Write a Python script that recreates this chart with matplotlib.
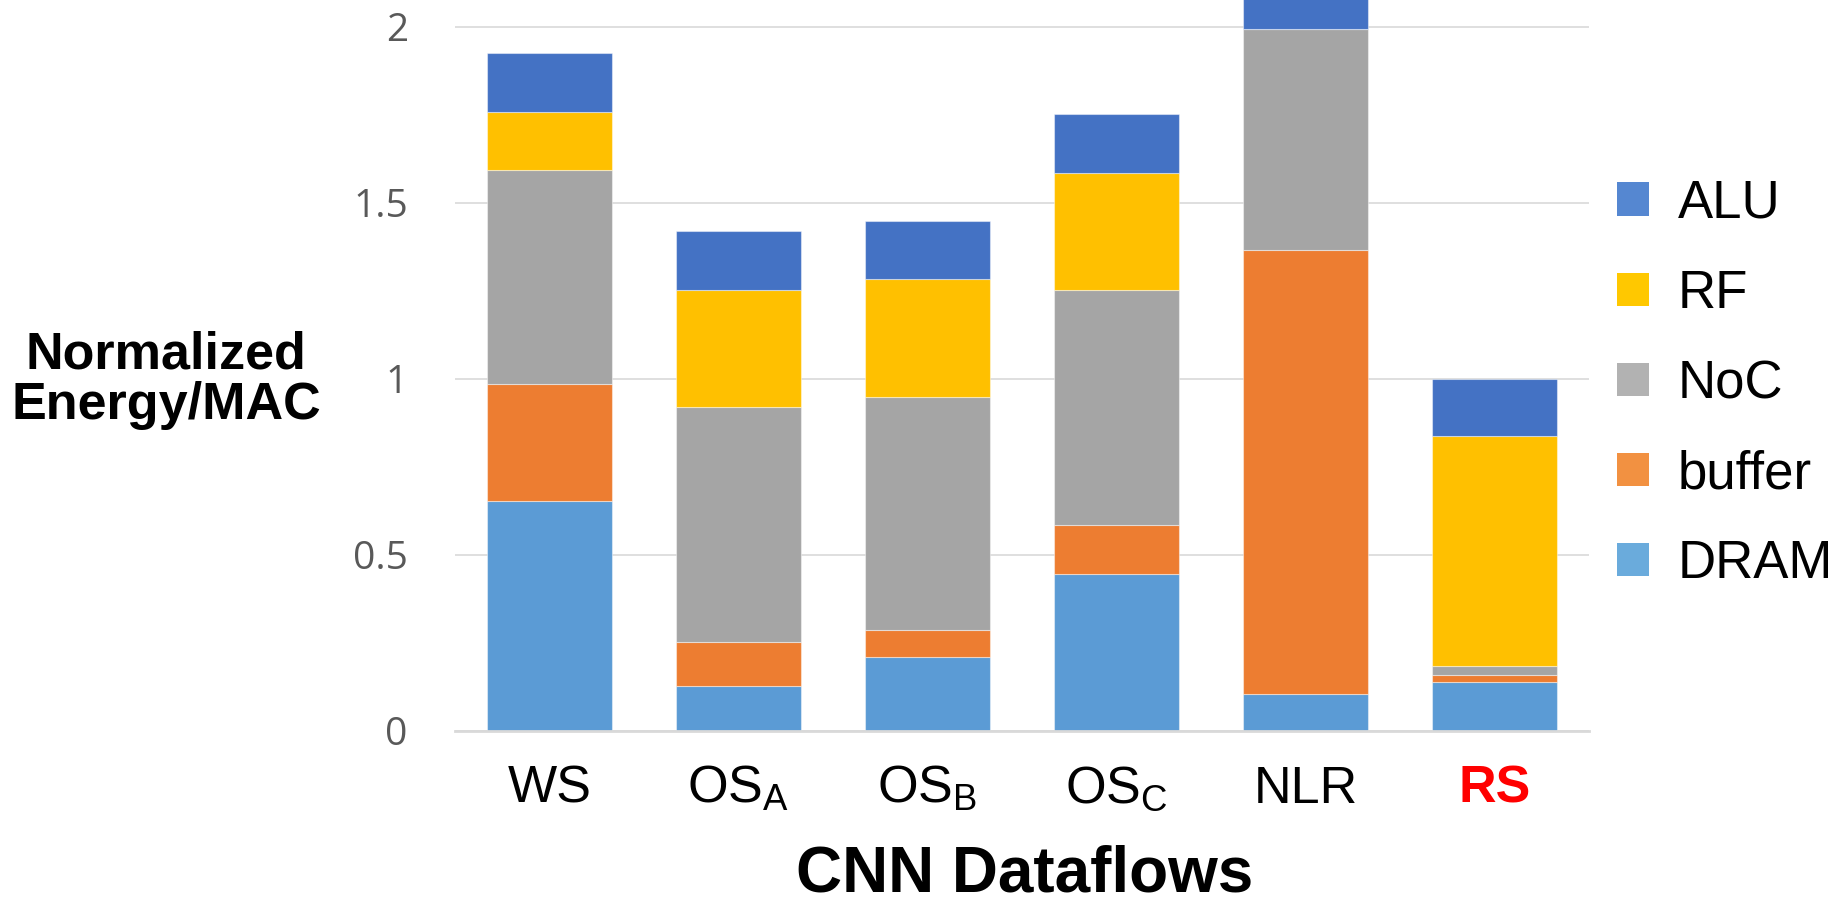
import matplotlib
matplotlib.use("Agg")
import matplotlib.pyplot as plt
from matplotlib.patches import Patch
import numpy as np

plt.rcParams['font.family'] = ['Liberation Sans', 'DejaVu Sans']
plt.rcParams['mathtext.default'] = 'regular'

# Energy breakdown per MAC, normalized, for each CNN dataflow
dataflows = ['WS', 'OS$_A$', 'OS$_B$', 'OS$_C$', 'NLR', 'RS']
dram   = [0.652, 0.126, 0.210, 0.444, 0.103, 0.139]
buffer = [0.332, 0.127, 0.077, 0.141, 1.262, 0.020]
noc    = [0.610, 0.667, 0.660, 0.666, 0.628, 0.026]
rf     = [0.164, 0.332, 0.335, 0.333, 0.000, 0.651]
alu    = [0.168, 0.167, 0.167, 0.167, 0.167, 0.164]

series = [('DRAM', dram, '#5B9BD5', '#6AABDC'),
          ('buffer', buffer, '#ED7D31', '#F29141'),
          ('NoC', noc, '#A5A5A5', '#B2B2B2'),
          ('RF', rf, '#FFC000', '#FFC800'),
          ('ALU', alu, '#4472C4', '#5587D1')]

yticks = [0, 0.5, 1, 1.5, 2]
ytick_labels = ['0', '0.5', '1', '1.5', '2']

fig = plt.figure(figsize=(18.49, 9.0), dpi=100)
ax = fig.add_axes([455 / 1849, 169.3 / 900, 1134 / 1849, 730.7 / 900])

x = np.arange(len(dataflows))
bottom = np.zeros(len(dataflows))
for name, vals, color, _ in series:
    vals = np.array(vals)
    ax.bar(x, vals, width=0.66, bottom=bottom, color=color,
           edgecolor=(1, 1, 1, 0.45), linewidth=0.8, zorder=3)
    bottom += vals

ax.set_xlim(-0.5, len(dataflows) - 0.5)
ax.set_ylim(0, 2.0758)

ax.set_yticks(yticks)
ax.set_yticklabels(ytick_labels, fontsize=28, color='#595959', family='Open Sans')
ax.tick_params(axis='y', length=0, pad=34)
ax.grid(axis='y', color='#D9D9D9', linewidth=1.2, zorder=0)
ax.set_axisbelow(True)

ax.set_xticks(x)
ax.set_xticklabels(dataflows, fontsize=37.5)
ax.tick_params(axis='x', length=0, pad=52)
for lab in ax.get_xticklabels():
    lab.set_va('baseline')
rs_label = ax.get_xticklabels()[-1]
rs_label.set_color('#FF0000')
rs_label.set_fontweight('bold')

for side in ['top', 'right', 'left']:
    ax.spines[side].set_visible(False)
ax.spines['bottom'].set_color('#D9D9D9')
ax.spines['bottom'].set_linewidth(2.0)
ax.spines['bottom'].set_zorder(4)

fig.text(166 / 1849, 1 - 380 / 900, 'Normalized\nEnergy/MAC', ha='center', va='center',
         multialignment='center', fontsize=37.5, fontweight='bold', linespacing=1.05)
fig.text(1025 / 1849, 8 / 900, 'CNN Dataflows', ha='center', va='baseline',
         fontsize=46, fontweight='bold')

handles = [Patch(facecolor=lc, edgecolor='none', label=name)
           for name, _, _, lc in reversed(series)]
fig.legend(handles=handles, loc='center left', bbox_to_anchor=(1617 / 1849, 1 - 384 / 900),
           frameon=False, fontsize=38, handlelength=0.6, handleheight=0.6,
           handletextpad=0.55, labelspacing=0.76, borderpad=0, borderaxespad=0)

fig.savefig('out.png', dpi=100)
